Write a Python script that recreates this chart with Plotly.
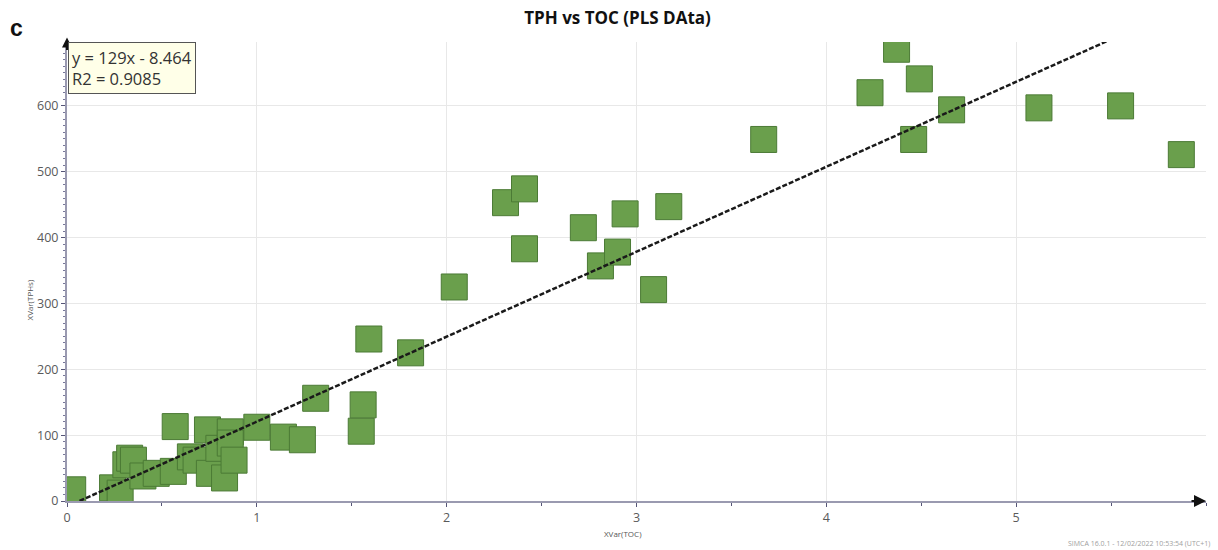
import plotly.graph_objects as go

# Sample measurements: total organic carbon vs total petroleum hydrocarbons
toc = [0.03, 0.24, 0.28, 0.31, 0.33, 0.35, 0.40, 0.47, 0.56, 0.57, 0.65, 0.68,
       0.74, 0.75, 0.80, 0.83, 0.86, 0.86, 0.88, 1.00, 1.14, 1.24, 1.31, 1.55,
       1.56, 1.59, 1.81, 2.04, 2.31, 2.41, 2.41, 2.72, 2.81, 2.90, 2.94, 3.09,
       3.17, 3.67, 4.23, 4.37, 4.46, 4.49, 4.66, 5.12, 5.55, 5.87]
tph = [17, 20, 12, 55, 65, 62, 38, 42, 45, 113, 67, 62,
       108, 42, 80, 35, 105, 88, 62, 112, 97, 93, 156, 106,
       146, 246, 225, 325, 453, 474, 383, 415, 357, 378, 436, 321,
       447, 549, 620, 686, 549, 641, 594, 597, 600, 526]

# Linear fit reported by the software
slope = 129.0
intercept = -8.464
r2 = 0.9085
fit_span = [0.066, 5.48]

x_ticks = [0, 1, 2, 3, 4, 5]
y_ticks = [0, 100, 200, 300, 400, 500, 600]
x_max = 6.0
y_max = 697

axis_col = "#9a9ab0"
base_font = "Open Sans, DejaVu Sans, sans-serif"
tick_font = dict(family=base_font, size=12.5, color="#5a5a5a")

fig = go.Figure()

fig.add_trace(go.Scatter(
    x=toc, y=tph, mode="markers",
    marker=dict(symbol="square", size=26, color="#6a9f4c",
                line=dict(color="#4b7a35", width=1)),
    showlegend=False, hoverinfo="x+y",
))

fit_y = [slope * x + intercept for x in fit_span]
fig.add_trace(go.Scatter(
    x=fit_span, y=fit_y, mode="lines",
    line=dict(color="#1a1a1a", width=2.5, dash="5px,2px"),
    showlegend=False, hoverinfo="skip",
))

fig.update_layout(
    width=1218, height=550,
    margin=dict(l=67, r=12, t=42, b=49),
    paper_bgcolor="white", plot_bgcolor="white",
    title=dict(text="<b>TPH vs TOC (PLS DAta)</b>", x=0.507, xanchor="center",
               y=0.967, yanchor="middle",
               font=dict(family=base_font, size=17, color="#111111")),
    xaxis=dict(range=[0, x_max], tickvals=x_ticks, ticktext=[str(v) for v in x_ticks],
               showgrid=True, gridcolor="#e8e8e8", gridwidth=1, zeroline=False,
               showline=True, linecolor=axis_col, linewidth=2,
               ticks="outside", ticklen=4, tickcolor="#555577", tickwidth=1,
               minor=dict(dtick=0.5, ticks="outside", ticklen=3, tickcolor="#555577", showgrid=False),
               tickfont=tick_font),
    yaxis=dict(range=[0, y_max], tickvals=y_ticks, ticktext=[str(v) for v in y_ticks],
               showgrid=True, gridcolor="#e8e8e8", gridwidth=1, zeroline=False,
               showline=True, linecolor=axis_col, linewidth=2,
               ticks="outside", ticklen=4, tickcolor="#555577", tickwidth=1,
               minor=dict(dtick=10, ticks="outside", ticklen=2, tickcolor="#777799", showgrid=False),
               tickfont=tick_font),
)

# Axis arrowheads
fig.add_annotation(x=x_max, y=0, xref="x", yref="y", ax=-16, ay=0, text="",
                   showarrow=True, arrowhead=2, arrowsize=1.2, arrowwidth=2,
                   arrowcolor="#111111")
fig.add_annotation(x=0, y=1.01, xref="x", yref="paper", ax=0, ay=14, text="",
                   showarrow=True, arrowhead=2, arrowsize=1.0, arrowwidth=2,
                   arrowcolor="#111111")

# Regression equation box
eq_text = f"y = {slope:g}x - {abs(intercept):g}<br>R2 = {r2:g}"
fig.add_annotation(x=0, y=1, xref="paper", yref="paper", xanchor="left", yanchor="top",
                   text=eq_text, showarrow=False, align="left",
                   font=dict(family=base_font, size=16.5, color="#333333"),
                   bgcolor="#ffffe8", bordercolor="#555555", borderwidth=1, borderpad=3,
                   xshift=1)

# Panel letter
fig.add_annotation(x=-0.052, y=1.0305, xref="paper", yref="paper", text="<b>c</b>",
                   showarrow=False, xanchor="left", yanchor="middle",
                   font=dict(family="Liberation Sans, Arial, sans-serif", size=23, color="#111111"))

# Axis titles
fig.add_annotation(x=0.5, y=-0.055, xref="paper", yref="paper", text="XVar(TOC)",
                   showarrow=False, yanchor="top", xshift=-14,
                   font=dict(family=base_font, size=8, color="#555555"))
fig.add_annotation(x=-0.0307, y=0.438, xref="paper", yref="paper", text="XVar(TPHs)",
                   showarrow=False, textangle=-90, xanchor="right", xshift=5,
                   font=dict(family=base_font, size=8, color="#555555"))

# Software footer
fig.add_annotation(x=1, y=0, xref="paper", yref="paper", xanchor="right", yanchor="middle",
                   yshift=-42, xshift=6,
                   text="SIMCA 16.0.1 - 12/02/2022 10:53:54 (UTC+1)", showarrow=False,
                   font=dict(family=base_font, size=7, color="#a0a0a0"))

fig.write_html("out.html")
